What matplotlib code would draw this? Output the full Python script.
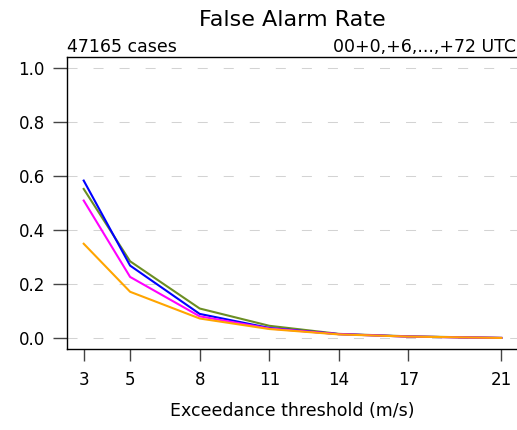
import matplotlib
matplotlib.use("Agg")
import matplotlib.pyplot as plt

plt.rcParams["font.family"] = ["DejaVu Sans"]

thresholds = [3, 5, 8, 11, 14, 17, 21]
far_green = [0.553, 0.285, 0.110, 0.046, 0.016, 0.007, 0.001]
far_blue = [0.584, 0.269, 0.090, 0.038, 0.015, 0.006, 0.001]
far_magenta = [0.510, 0.227, 0.081, 0.036, 0.015, 0.006, 0.001]
far_orange = [0.350, 0.172, 0.073, 0.034, 0.014, 0.006, 0.001]
yticks = [0.0, 0.2, 0.4, 0.6, 0.8, 1.0]

fig = plt.figure(figsize=(5.17, 4.30), dpi=100)
ax = fig.add_axes([67 / 517, 1 - 349 / 430, 451 / 517, (349 - 57.5) / 430])

for yv in yticks:
    ax.axhline(yv, color="#d3d3d3", lw=0.75, ls=(0, (9.6, 15.4)), zorder=1)

series = [(far_green, "#6b8e23"), (far_blue, "#0000ff"),
          (far_magenta, "#ff00ff"), (far_orange, "#ffa500")]
for vals, col in series:
    ax.plot(thresholds, vals, color=col, lw=1.5, zorder=3)

ax.set_xlim(2.28, 21.72)
ax.set_ylim(-0.04, 1.04)
ax.set_xticks(thresholds)
ax.set_yticks(yticks)
ax.set_yticklabels([f"{v:.1f}" for v in yticks])
ax.spines["right"].set_visible(False)
for s in ["left", "bottom", "top"]:
    ax.spines[s].set_linewidth(1.0)
ax.tick_params(axis="y", length=10, width=1, color="#444444", labelsize=12, pad=6)
ax.tick_params(axis="x", length=8.5, width=1, color="#444444", labelsize=12, pad=7)
ax.set_xlabel("Exceedance threshold (m/s)", fontsize=12.5, labelpad=10)

fig.text(292 / 517, 1 - 20 / 430, "False Alarm Rate", ha="center", va="center", fontsize=16)
fig.text(67 / 517, 1 - 47 / 430, "47165 cases", ha="left", va="center", fontsize=12.5)
fig.text(516 / 517, 1 - 47 / 430, "00+0,+6,...,+72 UTC", ha="right", va="center", fontsize=12.5)

fig.savefig("out.png", dpi=100)
